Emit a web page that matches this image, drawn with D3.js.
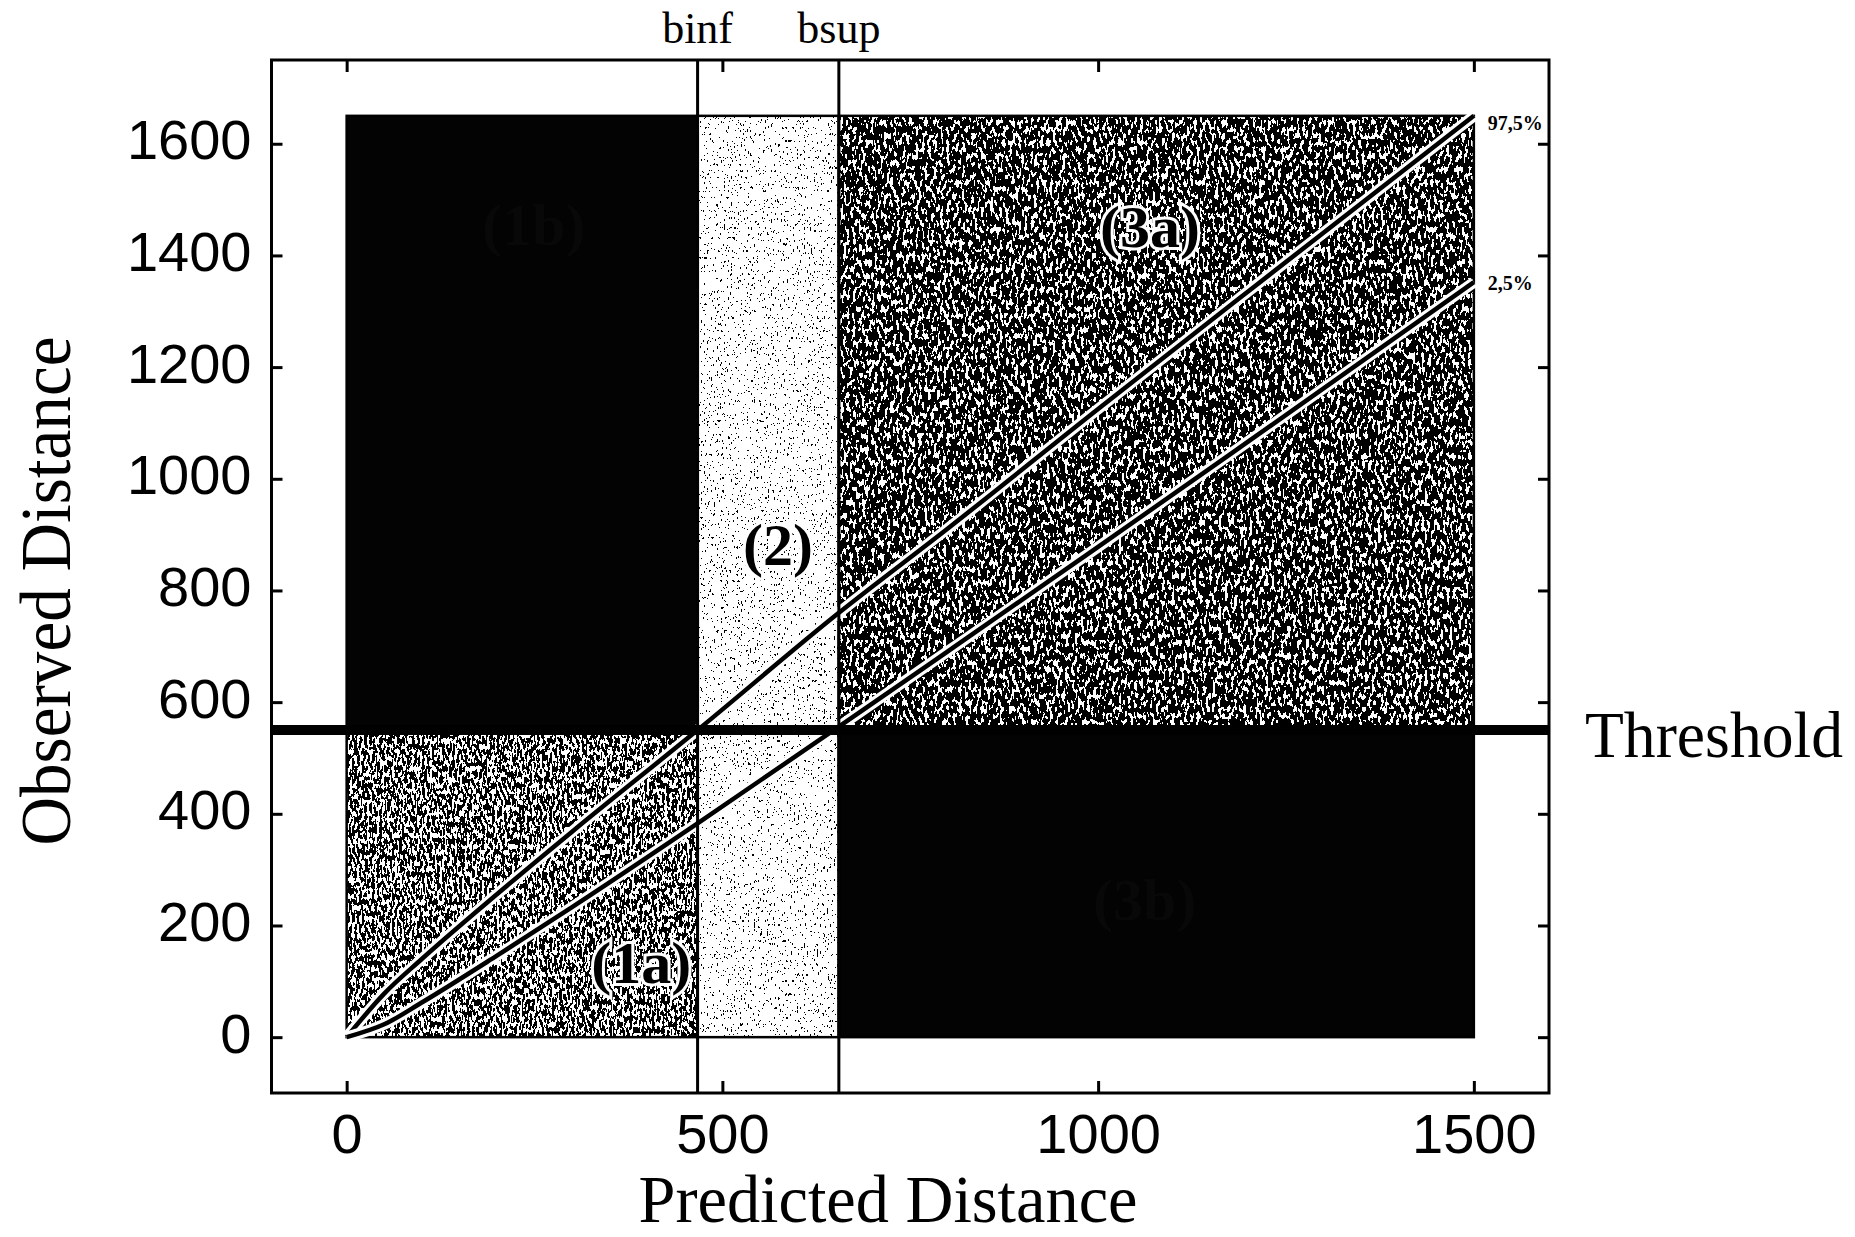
<!DOCTYPE html>
<html>
<head>
<meta charset="utf-8">
<script src="https://cdn.jsdelivr.net/npm/d3@7"></script>
<style>
  body { margin: 0; background: #fff; }
  svg { display: block; }
</style>
</head>
<body>
<script>
var width = 1855,
    height = 1237;

// boundaries (data units)
var binf = 467,
    bsup = 655,
    threshold = 550,
    xMax = 1500,
    yMax = 1650;

var xTicks = [0, 500, 1000, 1500],
    yTicks = [0, 200, 400, 600, 800, 1000, 1200, 1400, 1600];

// quantile curves (97,5% and 2,5%)
var curveX     = [0, 50, 100, 200, 300, 467, 655, 800, 1000, 1200, 1500],
    upperCurve = [0, 78, 140, 256, 368, 550, 760, 911, 1125, 1336, 1650],
    lowerCurve = [0, 23, 62, 146, 233, 383, 556, 691, 878, 1067, 1352];

var regionNames = ["(1a)", "(1b)", "(2)", "(3a)", "(3b)"],
    labelX = [392, 249, 574, 1069, 1062],
    labelY = [97, 1418, 845, 1415, 210];

var x = d3.scaleLinear().domain([-100, 1600]).range([271.5, 1549]),
    y = d3.scaleLinear().domain([-100, 1750]).range([1093, 60]);

var svg = d3.select("body").append("svg")
    .attr("width", width)
    .attr("height", height);

svg.append("rect").attr("width", width).attr("height", height).attr("fill", "#fff");

// photocopy-like grain
var defs = svg.append("defs");
function texture(id, freq, seed, cut) {
  var f = defs.append("filter").attr("id", id)
      .attr("x", 0).attr("y", 0).attr("width", 1).attr("height", 1)
      .attr("color-interpolation-filters", "sRGB");
  f.append("feTurbulence").attr("type", "fractalNoise")
      .attr("baseFrequency", freq).attr("numOctaves", 2).attr("seed", seed).attr("result", "n");
  f.append("feColorMatrix").attr("type", "matrix")
      .attr("values", "0 0 0 0 0  0 0 0 0 0  0 0 0 0 0  -5 0 0 0 " + (5 * cut + 0.5));
  f.append("feComponentTransfer").append("feFuncA").attr("type", "discrete").attr("tableValues", "0 1");
  f.append("feComposite").attr("in2", "SourceAlpha").attr("operator", "in");
}
texture("tex1a", "0.4 0.18", 3, 0.51);
texture("tex3a", "0.32 0.15", 7, 0.56);
texture("tex2", "0.7 0.3", 11, 0.31);

var regions = [
  {x0: 0, x1: binf, y0: 0, y1: threshold, fill: "tex1a"},
  {x0: 0, x1: binf, y0: threshold, y1: yMax, fill: null},
  {x0: binf, x1: bsup, y0: 0, y1: yMax, fill: "tex2"},
  {x0: bsup, x1: xMax, y0: threshold, y1: yMax, fill: "tex3a"},
  {x0: bsup, x1: xMax, y0: 0, y1: threshold, fill: null}
];

var g = svg.append("g");
regions.forEach(function(r) {
  var rx = x(r.x0), ry = y(r.y1), rw = x(r.x1) - x(r.x0), rh = y(r.y0) - y(r.y1);
  if (r.fill) {
    g.append("rect").attr("x", rx).attr("y", ry).attr("width", rw).attr("height", rh).attr("fill", "#fff");
    g.append("rect").attr("x", rx).attr("y", ry).attr("width", rw).attr("height", rh)
        .attr("fill", "#000").attr("filter", "url(#" + r.fill + ")");
  } else {
    g.append("rect").attr("x", rx).attr("y", ry).attr("width", rw).attr("height", rh).attr("fill", "#030303");
  }
  g.append("rect").attr("x", rx).attr("y", ry).attr("width", rw).attr("height", rh)
      .attr("fill", "none").attr("stroke", "#000").attr("stroke-width", 2.5);
});

// quantile lines with a white halo
var line = d3.line()
    .x(function(d) { return x(d[0]); })
    .y(function(d) { return y(d[1]); })
    .curve(d3.curveMonotoneX);
[upperCurve, lowerCurve].forEach(function(c) {
  var pts = curveX.map(function(v, i) { return [v, c[i]]; });
  svg.append("path").attr("d", line(pts)).attr("fill", "none")
      .attr("stroke", "#fff").attr("stroke-width", 11);
  svg.append("path").attr("d", line(pts)).attr("fill", "none")
      .attr("stroke", "#000").attr("stroke-width", 4.5);
});

// binf / bsup and threshold
[binf, bsup].forEach(function(b) {
  svg.append("line").attr("x1", x(b)).attr("x2", x(b)).attr("y1", y(1750)).attr("y2", y(-100))
      .attr("stroke", "#000").attr("stroke-width", 3);
});
svg.append("line").attr("x1", x(-100)).attr("x2", x(1600)).attr("y1", y(threshold)).attr("y2", y(threshold))
    .attr("stroke", "#000").attr("stroke-width", 10);

// frame
svg.append("rect").attr("x", x(-100)).attr("y", y(1750))
    .attr("width", x(1600) - x(-100)).attr("height", y(-100) - y(1750))
    .attr("fill", "none").attr("stroke", "#000").attr("stroke-width", 3);

// axes, ticks pointing inward
var sans = "'Liberation Sans', Arial, sans-serif",
    serif = "'Liberation Serif', 'Times New Roman', serif",
    fmt = d3.format("d");

var ax = svg.append("g").attr("transform", "translate(0," + y(-100) + ")")
    .call(d3.axisBottom(x).tickValues(xTicks).tickFormat(fmt).tickSize(-12).tickSizeOuter(0).tickPadding(20));
var at = svg.append("g").attr("transform", "translate(0," + y(1750) + ")")
    .call(d3.axisTop(x).tickValues(xTicks).tickSize(-12).tickSizeOuter(0).tickFormat(""));
var ay = svg.append("g").attr("transform", "translate(" + x(-100) + ",0)")
    .call(d3.axisLeft(y).tickValues(yTicks).tickFormat(fmt).tickSize(-11).tickSizeOuter(0).tickPadding(20));
var ar = svg.append("g").attr("transform", "translate(" + x(1600) + ",0)")
    .call(d3.axisRight(y).tickValues(yTicks).tickSize(-11).tickSizeOuter(0).tickFormat(""));
[ax, at, ay, ar].forEach(function(a) {
  a.select(".domain").remove();
  a.selectAll(".tick line").attr("stroke", "#000").attr("stroke-width", 3);
  a.selectAll("text").attr("fill", "#000").style("font-family", sans).style("font-size", "56px");
});
ay.selectAll("text").attr("dy", "0.27em");

// region labels ((1b) and (3b) are nearly lost in the black)
svg.selectAll(".rlabel").data(regionNames).enter().append("text")
    .attr("class", "rlabel")
    .attr("x", function(d, i) { return x(labelX[i]); })
    .attr("y", function(d, i) { return y(labelY[i]); })
    .attr("text-anchor", "middle")
    .style("font-family", serif).style("font-weight", "bold").style("font-size", "60px")
    .attr("fill", function(d) { return /b/.test(d) ? "#080808" : "#000"; })
    .attr("stroke", function(d) { return /b/.test(d) ? "none" : "#fff"; })
    .attr("stroke-width", 6).attr("paint-order", "stroke")
    .text(function(d) { return d; });

// bound names
svg.append("text").attr("x", x(binf)).attr("y", 43).attr("text-anchor", "middle")
    .style("font-family", serif).style("font-size", "44px").text("binf");
svg.append("text").attr("x", x(bsup)).attr("y", 43).attr("text-anchor", "middle")
    .style("font-family", serif).style("font-size", "44px").text("bsup");

// quantile names
svg.append("text").attr("x", x(xMax) + 14).attr("y", y(upperCurve[upperCurve.length - 1]) + 14)
    .style("font-family", serif).style("font-weight", "bold").style("font-size", "20px").text("97,5%");
svg.append("text").attr("x", x(xMax) + 14).attr("y", y(lowerCurve[lowerCurve.length - 1]) + 8)
    .style("font-family", serif).style("font-weight", "bold").style("font-size", "20px").text("2,5%");

svg.append("text").attr("x", 1585).attr("y", y(threshold) + 27)
    .attr("textLength", 258).attr("lengthAdjust", "spacingAndGlyphs")
    .style("font-family", serif).style("font-size", "66px").text("Threshold");

// axis titles
svg.append("text").attr("x", 888).attr("y", 1222).attr("text-anchor", "middle")
    .attr("textLength", 499).attr("lengthAdjust", "spacingAndGlyphs")
    .style("font-family", serif).style("font-size", "68px").text("Predicted Distance");
svg.append("text").attr("transform", "translate(70,591) rotate(-90)").attr("text-anchor", "middle")
    .attr("textLength", 509).attr("lengthAdjust", "spacingAndGlyphs")
    .style("font-family", serif).style("font-size", "72px").text("Observed Distance");
</script>
</body>
</html>
